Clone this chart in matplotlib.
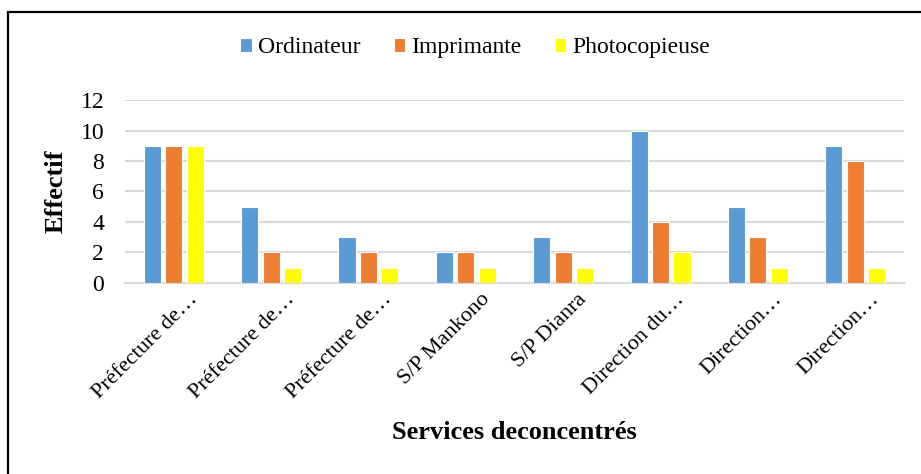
import matplotlib
matplotlib.use("Agg")
from matplotlib import pyplot as plt
from matplotlib.patches import Rectangle
import matplotlib.transforms as mtransforms
import numpy as np

plt.rcParams['font.family'] = ['Liberation Serif', 'DejaVu Serif']

# Data
services = ["Préfecture de…", "Préfecture de…", "Préfecture de…", "S/P Mankono",
            "S/P Dianra", "Direction du…", "Direction…", "Direction…"]
ordinateur = [9, 5, 3, 2, 3, 10, 5, 9]
imprimante = [9, 2, 2, 2, 2, 4, 3, 8]
photocopieuse = [9, 1, 1, 1, 1, 2, 1, 1]

series = [("Ordinateur", ordinateur, "#5B9BD5"),
          ("Imprimante", imprimante, "#ED7D31"),
          ("Photocopieuse", photocopieuse, "#FFFF00")]

fig = plt.figure(figsize=(9.21, 4.74), dpi=100)
ax = fig.add_axes([0.1357, 0.403, 0.8459, 0.386])

x = np.arange(len(services))
width = 0.175
step = 0.22
for i, (name, vals, col) in enumerate(series):
    ax.bar(x + (i - 1) * step, vals, width, color=col, edgecolor="white",
           linewidth=0.8, label=name, zorder=3)

ax.set_xlim(-0.5, len(services) - 0.5)
ax.set_ylim(0, 12)
ax.set_yticks(range(0, 13, 2))
ax.yaxis.grid(True, color="#d9d9d9", linewidth=1.5, zorder=0)
ax.tick_params(axis="y", length=0, labelsize=17, pad=15)
ax.tick_params(axis="x", length=0, labelsize=16)
for s in ["top", "right", "left"]:
    ax.spines[s].set_visible(False)
ax.spines["bottom"].set_color("#d9d9d9")
ax.spines["bottom"].set_linewidth(1.5)

ax.set_xticks(x)
ax.set_xticklabels(services, rotation=45, ha="right", va="center",
                   rotation_mode="anchor")
offset = mtransforms.ScaledTranslation(21 / 100, -9 / 100, fig.dpi_scale_trans)
for lbl in ax.get_xticklabels():
    lbl.set_transform(lbl.get_transform() + offset)

fig.text(0.061, 0.597, "Effectif", rotation=90, fontsize=19, fontweight="bold",
         ha="center", va="center")
fig.text(0.558, 0.088, "Services deconcentrés", fontsize=19, fontweight="bold",
         ha="center", va="center")

fig.legend(loc="center", bbox_to_anchor=(0.516, 0.899), ncol=3, frameon=False,
           fontsize=17, handlelength=0.5, handleheight=0.5, handletextpad=0.25,
           columnspacing=1.4)

# outer frame (left and top visible, rest cut off)
fig.patches.append(Rectangle((8 / 921, -0.1), 1.2, 1.1 - 12 / 474,
                             transform=fig.transFigure, fill=False,
                             edgecolor="black", linewidth=1.6))

fig.savefig("out.png", dpi=100)
